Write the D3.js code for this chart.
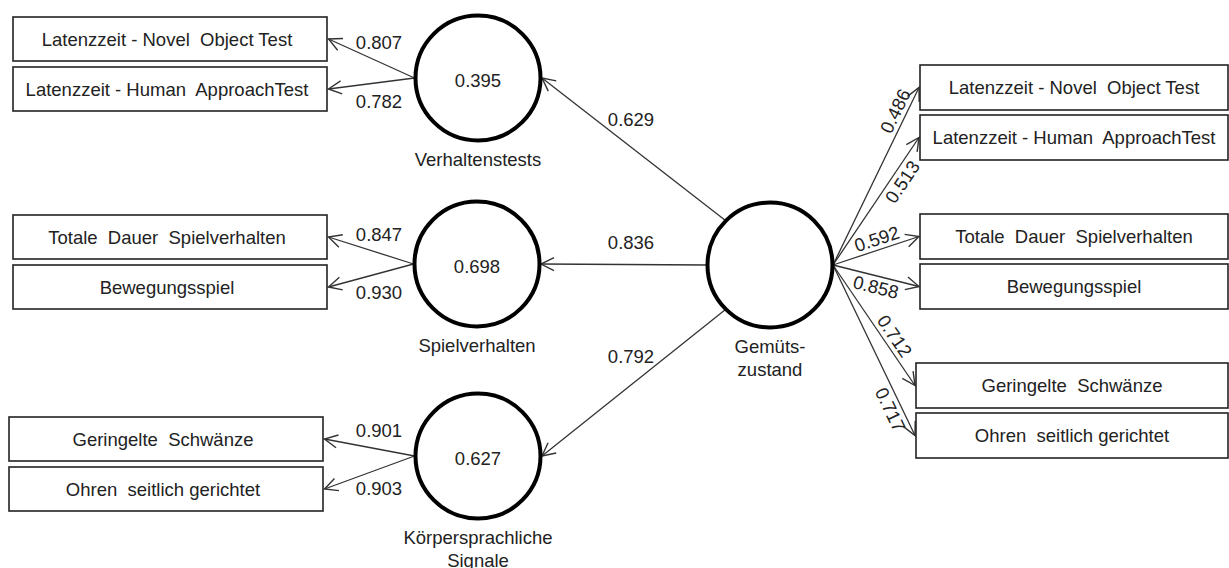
<!DOCTYPE html>
<html>
<head>
<meta charset="utf-8">
<script src="https://cdn.jsdelivr.net/npm/d3@7"></script>
<style>
  html, body { margin: 0; padding: 0; background: #fff; }
  svg { display: block; }
  text { font-family: "Liberation Sans", Arial, sans-serif; fill: #222; white-space: pre; }
</style>
</head>
<body>
<svg id="chart" width="1229" height="568"></svg>
<script>
// ---------------- data ----------------
const latentNames   = ["Verhaltenstests", "Spielverhalten", "Körpersprachliche Signale", "Gemütszustand"];
const latentLines   = [["Verhaltenstests"], ["Spielverhalten"], ["Körpersprachliche", "Signale"], ["Gemüts-", "zustand"]];
const rSquared      = [0.395, 0.698, 0.627, null];
const pathCoefs     = [0.629, 0.836, 0.792];          // Gemütszustand -> latent 0..2
const indicatorNames = [
  "Latenzzeit - Novel  Object Test",
  "Latenzzeit - Human  ApproachTest",
  "Totale  Dauer  Spielverhalten",
  "Bewegungsspiel",
  "Geringelte  Schwänze",
  "Ohren  seitlich gerichtet"
];
const indicatorGroup = [0, 0, 1, 1, 2, 2];
const leftLoadings   = [0.807, 0.782, 0.847, 0.930, 0.901, 0.903];
const rightLoadings  = [0.486, 0.513, 0.592, 0.858, 0.712, 0.717];

// ---------------- layout ----------------
const fmt = d3.format(".3f");
const svg = d3.select("#chart");
const R = 62.5;
const cxScale = d3.scaleOrdinal().domain(latentNames).range([478, 477, 478, 770]);
const cyScale = d3.scaleOrdinal().domain(latentNames).range([78, 264, 456, 265]);
// indicator boxes
const leftGroupTop  = d3.scaleOrdinal().domain([0, 1, 2]).range([17, 215, 417]);
const leftGroupX    = d3.scaleOrdinal().domain([0, 1, 2]).range([13, 13, 9]);
const rightGroupTop = d3.scaleOrdinal().domain([0, 1, 2]).range([65, 214, 363]);
const rightGroupX   = d3.scaleOrdinal().domain([0, 1, 2]).range([920, 920, 916]);
const leftBoxW = 314, leftBoxH = 44, leftGap = 50;
const rightEdge = 1228, rightBoxH = 45, rightGap = 50;
// label placement along right arrows: [fraction along, side (-1 above, +1 below)]
const rightLabelPos = [[0.84, -1], [0.70, 1], [0.55, -1], [0.53, 1], [0.64, -1], [0.82, 1]];

const FONT = 18.5;
const LINE = "#333";

const defs = svg.append("defs");
defs.append("marker")
  .attr("id", "arr").attr("viewBox", "-15 -9 17 18")
  .attr("refX", 0).attr("refY", 0)
  .attr("markerWidth", 17).attr("markerHeight", 18)
  .attr("markerUnits", "userSpaceOnUse").attr("orient", "auto")
  .append("path").attr("d", "M-13,-6.5L0,0L-13,6.5")
  .attr("fill", "none").attr("stroke", LINE).attr("stroke-width", 1.4);

const gLines = svg.append("g");
const gNodes = svg.append("g");
const gText = svg.append("g");

const gem = latentNames[3];
const gx = cxScale(gem), gy = cyScale(gem);

function arrow(x1, y1, x2, y2) {
  gLines.append("line")
    .attr("x1", x1).attr("y1", y1).attr("x2", x2).attr("y2", y2)
    .attr("stroke", LINE).attr("stroke-width", 1.3)
    .attr("marker-end", "url(#arr)");
}

// ---- structural paths ----
const startAngles = [-135, 180, 135];
pathCoefs.forEach((v, i) => {
  const a = startAngles[i] * Math.PI / 180;
  const x1 = gx + R * Math.cos(a), y1 = gy + R * Math.sin(a);
  const x2 = cxScale(latentNames[i]) + R + 1.5, y2 = cyScale(latentNames[i]);
  arrow(x1, y1, x2, y2);
  const lx = 631;
  const t = (x1 - lx) / (x1 - x2);
  const ly = y1 + t * (y2 - y1);
  const th = Math.atan2(y2 - y1, x1 - x2);
  gText.append("text").attr("x", lx).attr("y", ly - 22 / Math.cos(th))
    .attr("text-anchor", "middle").attr("dominant-baseline", "central")
    .attr("font-size", FONT).text(fmt(v));
});

// ---- left indicators ----
indicatorNames.forEach((name, i) => {
  const g = indicatorGroup[i], k = i % 2;
  const bx = leftGroupX(g), by = leftGroupTop(g) + k * leftGap;
  gNodes.append("rect").attr("x", bx).attr("y", by).attr("width", leftBoxW).attr("height", leftBoxH)
    .attr("fill", "#fff").attr("stroke", "#222").attr("stroke-width", 1.6);
  gText.append("text").attr("x", bx + leftBoxW / 2 - 3).attr("y", by + leftBoxH / 2)
    .attr("text-anchor", "middle").attr("dominant-baseline", "central")
    .attr("font-size", FONT).text(name);
  const lat = latentNames[g];
  const x1 = cxScale(lat) - R - 1, y1 = cyScale(lat);
  const x2 = bx + leftBoxW + 1.5, y2 = by + leftBoxH / 2;
  arrow(x1, y1, x2, y2);
  const lx = 379;
  const t = (x1 - lx) / (x1 - x2);
  const ly = y1 + t * (y2 - y1) + (k === 0 ? -19 : 19);
  gText.append("text").attr("x", lx).attr("y", ly)
    .attr("text-anchor", "middle").attr("dominant-baseline", "central")
    .attr("font-size", FONT).text(fmt(leftLoadings[i]));
});

// ---- right indicators ----
indicatorNames.forEach((name, i) => {
  const g = indicatorGroup[i], k = i % 2;
  const bx = rightGroupX(g), by = rightGroupTop(g) + k * rightGap;
  const bw = rightEdge - bx;
  gNodes.append("rect").attr("x", bx).attr("y", by).attr("width", bw).attr("height", rightBoxH)
    .attr("fill", "#fff").attr("stroke", "#222").attr("stroke-width", 1.6);
  gText.append("text").attr("x", bx + bw / 2).attr("y", by + rightBoxH / 2)
    .attr("text-anchor", "middle").attr("dominant-baseline", "central")
    .attr("font-size", FONT).text(name);
  const x1 = gx + R + 0.5, y1 = gy;
  const x2 = bx - 1, y2 = by + rightBoxH / 2;
  arrow(x1, y1, x2, y2);
  const [t, side] = rightLabelPos[i];
  const th = Math.atan2(y2 - y1, x2 - x1);
  const px = x1 + t * (x2 - x1) + side * 11 * (-Math.sin(th));
  const py = y1 + t * (y2 - y1) + side * 11 * Math.cos(th);
  gText.append("text").attr("transform", `translate(${px},${py}) rotate(${th * 180 / Math.PI})`)
    .attr("text-anchor", "middle").attr("dominant-baseline", "central")
    .attr("font-size", FONT).text(fmt(rightLoadings[i]));
});

// ---- latent circles ----
latentNames.forEach((name, i) => {
  const cx = cxScale(name), cy = cyScale(name);
  gNodes.append("circle").attr("cx", cx).attr("cy", cy).attr("r", R)
    .attr("fill", "#fff").attr("stroke", "#000").attr("stroke-width", 4);
  if (rSquared[i] != null) {
    gText.append("text").attr("x", cx).attr("y", cy + 2)
      .attr("text-anchor", "middle").attr("dominant-baseline", "central")
      .attr("font-size", FONT).text(fmt(rSquared[i]));
  }
  latentLines[i].forEach((ln, j) => {
    gText.append("text").attr("x", cx).attr("y", cy + 81 + j * 23)
      .attr("text-anchor", "middle").attr("dominant-baseline", "central")
      .attr("font-size", FONT).text(ln);
  });
});
</script>
</body>
</html>
